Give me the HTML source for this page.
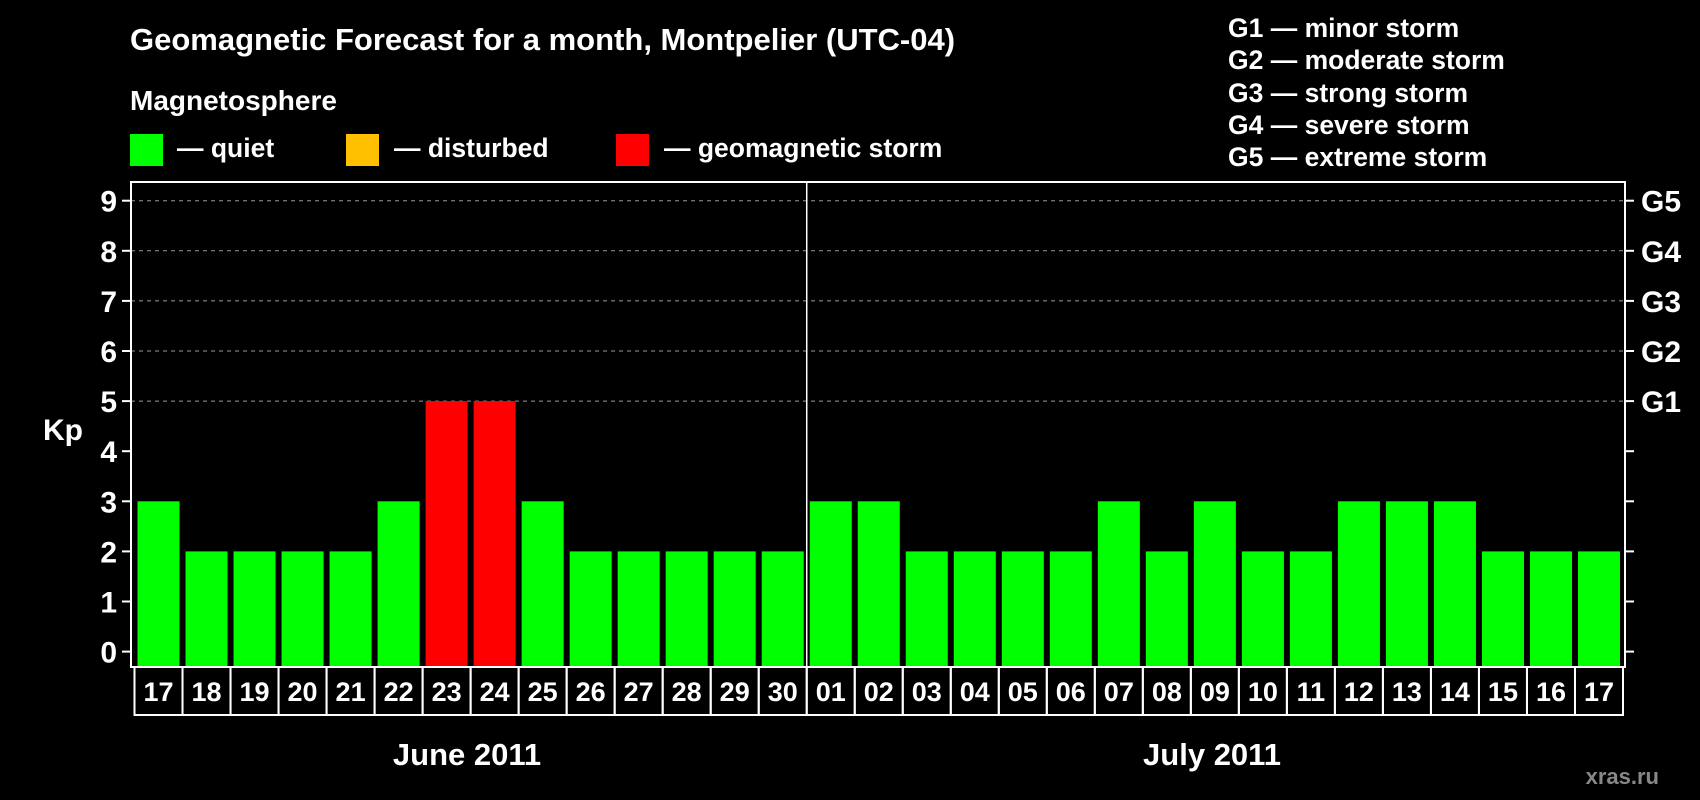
<!DOCTYPE html>
<html><head><meta charset="utf-8"><style>
body{margin:0;background:#000;}
svg{display:block;font-family:"Liberation Sans",sans-serif;font-weight:bold;}
</style></head><body>
<svg id="c" width="1700" height="800" viewBox="0 0 1700 800">
<rect width="1700" height="800" fill="#000"/>
<text x="130" y="50" fill="#fff" font-size="31">Geomagnetic Forecast for a month, Montpelier (UTC-04)</text>
<text x="130" y="110" fill="#fff" font-size="28">Magnetosphere</text>
<rect x="130" y="134" width="33" height="32" fill="#00ff00"/>
<text x="177" y="157" fill="#fff" font-size="26.5">— quiet</text>
<rect x="346" y="134" width="33" height="32" fill="#ffc000"/>
<text x="394" y="157" fill="#fff" font-size="26.5">— disturbed</text>
<rect x="616" y="134" width="33" height="32" fill="#ff0000"/>
<text x="664" y="157" fill="#fff" font-size="26.5">— geomagnetic storm</text>
<g fill="#fff" font-size="26.5">
<text x="1228" y="37">G1 — minor storm</text>
<text x="1228" y="69">G2 — moderate storm</text>
<text x="1228" y="102">G3 — strong storm</text>
<text x="1228" y="134">G4 — severe storm</text>
<text x="1228" y="166">G5 — extreme storm</text>
</g>
<text x="43" y="440" fill="#fff" font-size="30">Kp</text>
<text x="467" y="765" fill="#fff" font-size="31" text-anchor="middle">June 2011</text>
<text x="1212" y="765" fill="#fff" font-size="31" text-anchor="middle">July 2011</text>
<text x="1659" y="784" fill="#888" font-size="22" text-anchor="end">xras.ru</text>
<g id="plot"></g>
</svg>
<script>
const days=["17","18","19","20","21","22","23","24","25","26","27","28","29","30","01","02","03","04","05","06","07","08","09","10","11","12","13","14","15","16","17"];
const kp=[3,2,2,2,2,3,5,5,3,2,2,2,2,2,3,3,2,2,2,2,3,2,3,2,2,3,3,3,2,2,2];
const yTicks=[0,1,2,3,4,5,6,7,8,9];
const gLabels=["G1","G2","G3","G4","G5"];
const gLevels=[5,6,7,8,9];
const monthBreak=14;
const NS="http://www.w3.org/2000/svg";
const g=document.getElementById('plot');
const X0=134.5,SW=1488.5/days.length,Y0=651.6,UY=50.1,FL=131,FR=1625,FT=182,FB=667;
const y=v=>Y0-v*UY, x=i=>X0+i*SW;
function mk(t,a){const e=document.createElementNS(NS,t);for(const k in a)e.setAttribute(k,a[k]);g.appendChild(e);return e;}
let e;
yTicks.forEach(v=>{
 if(v>=5){e=mk('line',{x1:FL,x2:FR,y1:y(v),y2:y(v),stroke:'#999','stroke-dasharray':'4,4','stroke-width':1});
 
 }
 e=mk('line',{x1:FL-9,x2:FL,y1:y(v),y2:y(v),stroke:'#fff','stroke-width':2});
 
 
 e=mk('line',{x1:FR,x2:FR+9,y1:y(v),y2:y(v),stroke:'#fff','stroke-width':2});
 
 
 e=mk('text',{x:FL-14,y:y(v)+11,fill:'#fff','font-size':30,'text-anchor':'end'});e.textContent=v;
 
 
});
gLabels.forEach((l,i)=>{
 e=mk('text',{x:FR+16,y:y(gLevels[i])+11,fill:'#fff','font-size':30});e.textContent=l;
 
 
});
kp.forEach((v,i)=>{
 const col=v>=5?'#ff0000':(v>=4?'#ffc000':'#00ff00');
 e=mk('rect',{x:x(i)+3,y:y(v),width:SW-6,height:FB-1-y(v),fill:col});
 
 
});
e=mk('rect',{x:FL,y:FT,width:FR-FL,height:FB-FT,fill:'none',stroke:'#fff','stroke-width':2});


e=mk('line',{x1:x(monthBreak),x2:x(monthBreak),y1:FT,y2:FB,stroke:'#fff','stroke-width':1.5});


days.forEach((d,i)=>{
 e=mk('rect',{x:x(i),y:FB,width:SW,height:48,fill:'none',stroke:'#fff','stroke-width':2});
 
 
 e=mk('text',{x:x(i)+SW/2,y:FB+34,fill:'#fff','font-size':27,'text-anchor':'middle'});e.textContent=d;
 
 
});
</script>
</body></html>
